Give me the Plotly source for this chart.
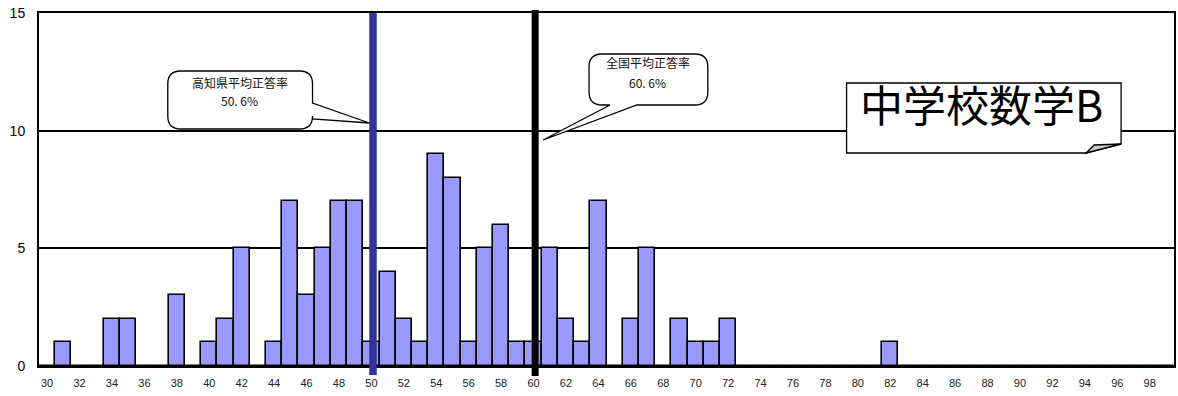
import plotly.graph_objects as go

# Score bins (percent correct) and number of schools in each bin
scores = list(range(30, 100))
counts = [0, 1, 0, 0, 2, 2, 0, 0, 3, 0,
          1, 2, 5, 0, 1, 7, 3, 5, 7, 7,
          1, 4, 2, 1, 9, 8, 1, 5, 6, 1,
          1, 5, 2, 1, 7, 0, 2, 5, 0, 2,
          1, 1, 2, 0, 0, 0, 0, 0, 0, 0,
          0, 0, 1, 0, 0, 0, 0, 0, 0, 0,
          0, 0, 0, 0, 0, 0, 0, 0, 0, 0]
tick_scores = list(range(30, 100, 2))
y_ticks = [0, 5, 10, 15]

pref_avg = 50.6   # 高知県平均正答率
nat_avg = 60.6    # 全国平均正答率
title_text = "中学校数学B"

W, H = 1178, 396
ML, MR, MT, MB = 39, 2, 13, 30
PW, PH = W - ML - MR, H - MT - MB


def px(x):
    return (x - ML) / PW


def py(y):
    return (H - MB - y) / PH


def path(points):
    parts = []
    for cmd, pts in points:
        coords = " ".join(f"{px(a):.5f},{py(b):.5f}" for a, b in pts)
        parts.append(f"{cmd}{coords}")
    return " ".join(parts) + " Z"


def pct(v):
    return f"{int(v)}. {round((v % 1) * 10)}%"


fig = go.Figure()

# each bin k covers [k, k+1)
fig.add_trace(go.Bar(
    x=[s + 0.5 for s in scores], y=counts, width=1,
    marker=dict(color="#9999FF", line=dict(color="black", width=1.6)),
    hoverinfo="x+y", showlegend=False,
))

shapes = []
# average lines
shapes.append(dict(type="line", xref="x", yref="paper", x0=pref_avg, x1=pref_avg,
                   y0=py(375), y1=1.0, line=dict(color="#333399", width=7.5), layer="above"))
shapes.append(dict(type="line", xref="x", yref="paper", x0=nat_avg, x1=nat_avg,
                   y0=py(376), y1=py(10), line=dict(color="black", width=7), layer="above"))

r = 13
# callout for the prefecture average (tail on the right side)
L, R, T, B = 168, 313, 71, 129
c1 = [
    ("M", [(L + r, T)]), ("L", [(R - r, T)]), ("Q", [(R, T), (R, T + r)]),
    ("L", [(R, 103)]), ("L", [(370, 123)]), ("L", [(R, 119)]),
    ("L", [(R, B - r)]), ("Q", [(R, B), (R - r, B)]),
    ("L", [(L + r, B)]), ("Q", [(L, B), (L, B - r)]),
    ("L", [(L, T + r)]), ("Q", [(L, T), (L + r, T)]),
]
shapes.append(dict(type="path", xref="paper", yref="paper", path=path(c1),
                   fillcolor="white", line=dict(color="black", width=1.3), layer="above"))

# callout for the national average (tail from the bottom edge)
L, R, T, B = 590, 709, 54, 105
c2 = [
    ("M", [(L + r, T)]), ("L", [(R - r, T)]), ("Q", [(R, T), (R, T + r)]),
    ("L", [(R, B - r)]), ("Q", [(R, B), (R - r, B)]),
    ("L", [(638, B)]), ("L", [(544, 140)]), ("L", [(611, B)]),
    ("L", [(L + r, B)]), ("Q", [(L, B), (L, B - r)]),
    ("L", [(L, T + r)]), ("Q", [(L, T), (L + r, T)]),
]
shapes.append(dict(type="path", xref="paper", yref="paper", path=path(c2),
                   fillcolor="white", line=dict(color="black", width=1.3), layer="above"))

# title box with a folded bottom-right corner
L, R, T, B = 848, 1123, 83, 153
box = [("M", [(L, T)]), ("L", [(R, T)]), ("L", [(R, 144)]), ("L", [(1088, B)]), ("L", [(L, B)])]
shapes.append(dict(type="path", xref="paper", yref="paper", path=path(box),
                   fillcolor="white", line=dict(color="black", width=1.3), layer="above"))
fold = [("M", [(1088, B)]), ("L", [(1096, 145)]), ("L", [(R, 144)])]
shapes.append(dict(type="path", xref="paper", yref="paper", path=path(fold),
                   fillcolor="#C8C8C8", line=dict(color="black", width=1.3), layer="above"))

font_jp = "Noto Sans CJK JP"
ann_common = dict(xref="paper", yref="paper", showarrow=False,
                  xanchor="center", yanchor="middle", align="center")
callout_font = dict(family=font_jp, size=12, color="#111")
annotations = [
    dict(x=px(240), y=py(82), text="高知県平均正答率", font=callout_font, **ann_common),
    dict(x=px(240), y=py(100), text=pct(pref_avg), font=callout_font, **ann_common),
    dict(x=px(649), y=py(63), text="全国平均正答率", font=callout_font, **ann_common),
    dict(x=px(649), y=py(82), text=pct(nat_avg), font=callout_font, **ann_common),
    dict(x=px(983), y=py(103), text=title_text,
         font=dict(family=font_jp, size=43, color="black"), **ann_common),
]

fig.update_layout(
    width=W, height=H,
    margin=dict(l=ML, r=MR, t=MT, b=MB),
    paper_bgcolor="white", plot_bgcolor="white",
    bargap=0, shapes=shapes, annotations=annotations,
    xaxis=dict(range=[30, 100], tickvals=[s + 0.5 for s in tick_scores],
               ticktext=[str(s) for s in tick_scores], showgrid=False, zeroline=False,
               showline=True, linecolor="black", linewidth=2, mirror=True, ticks="",
               ticklabelstandoff=6,
               tickfont=dict(family="Liberation Sans", size=11, color="#222")),
    yaxis=dict(range=[0, 15], tickvals=y_ticks, showgrid=True, gridcolor="black",
               gridwidth=1.5, zeroline=True, zerolinecolor="black", zerolinewidth=2,
               showline=True, linecolor="black", linewidth=2, mirror=True, ticks="",
               ticklabelstandoff=9,
               tickfont=dict(family="Liberation Sans", size=14, color="black")),
)

fig.write_html("out.html")
